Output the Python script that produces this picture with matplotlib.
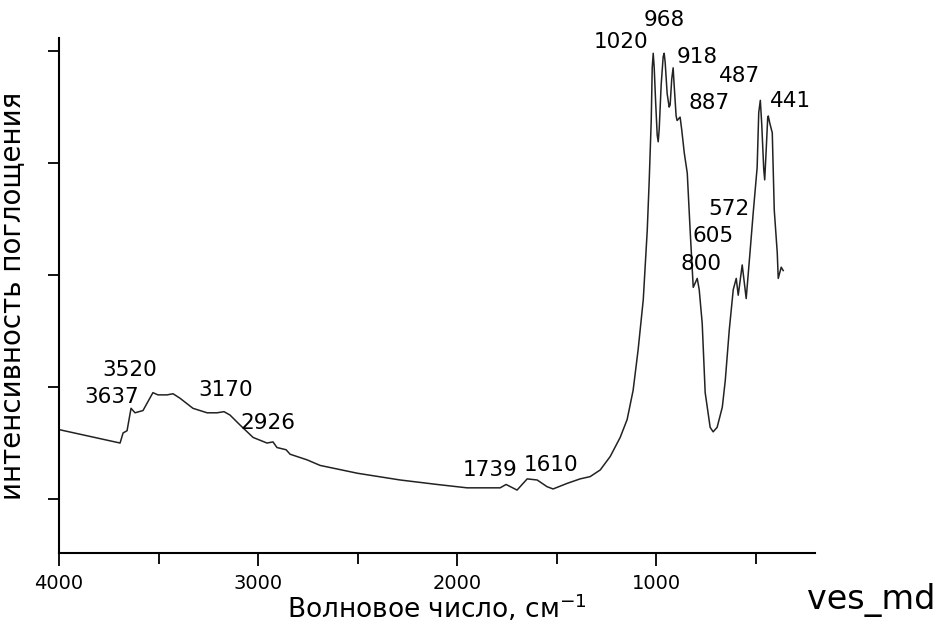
import numpy as np
import matplotlib
matplotlib.use('Agg')
import matplotlib.pyplot as plt
from matplotlib.ticker import MultipleLocator

# IR spectrum (wavenumber, arbitrary absorbance)
wavenumber = [4000, 3693, 3678, 3658, 3638, 3618, 3578, 3528, 3503, 3457,
              3427, 3392, 3327, 3256, 3206, 3171, 3141, 3090, 3025, 2955,
              2925, 2905, 2859, 2839, 2754, 2688, 2500, 2286, 2100, 1950,
              1784, 1754, 1699, 1648, 1598, 1548, 1518, 1447, 1382, 1332,
              1281, 1231, 1181, 1146, 1116, 1091, 1065, 1045, 1035, 1025,
              1020, 1015, 1010, 1003, 995, 990, 985, 975, 965, 960,
              955, 945, 935, 930, 922, 915, 910, 900, 895, 880,
              872, 859, 844, 829, 814, 794, 784, 769, 754, 729,
              714, 694, 668, 653, 633, 613, 598, 588, 568, 548,
              528, 513, 493, 485, 477, 470, 460, 455, 448, 440,
              437, 430, 417, 407, 392, 387, 372, 362]
absorb = [0.62, 0.50, 0.59, 0.61, 0.81, 0.77, 0.79, 0.95, 0.93, 0.93,
          0.94, 0.90, 0.81, 0.77, 0.77, 0.78, 0.75, 0.66, 0.55, 0.50,
          0.51, 0.46, 0.44, 0.40, 0.35, 0.30, 0.23, 0.17, 0.13, 0.10,
          0.10, 0.13, 0.08, 0.18, 0.17, 0.11, 0.09, 0.14, 0.18, 0.20,
          0.26, 0.38, 0.55, 0.71, 0.97, 1.33, 1.78, 2.40, 2.85, 3.38,
          3.85, 3.98, 3.85, 3.55, 3.25, 3.19, 3.30, 3.70, 3.95, 3.98,
          3.90, 3.62, 3.50, 3.52, 3.75, 3.85, 3.70, 3.42, 3.38, 3.41,
          3.30, 3.09, 2.91, 2.38, 1.89, 1.97, 1.87, 1.57, 0.95, 0.64,
          0.60, 0.64, 0.82, 1.06, 1.51, 1.87, 1.97, 1.82, 2.09, 1.79,
          2.22, 2.55, 2.96, 3.45, 3.56, 3.35, 2.95, 2.85, 3.10, 3.40,
          3.42, 3.36, 3.27, 2.58, 2.20, 1.97, 2.07, 2.04]

peak_labels = ['3520', '3637', '3170', '2926', '1739', '1610', '1020', '968',
               '918', '487', '887', '441', '572', '605', '800']
label_x = [3643, 3734, 3161, 2950, 1834, 1528, 1176, 960,
           794, 583, 734, 327, 633, 714, 774]
label_y = [1.15, 0.91, 0.97, 0.68, 0.26, 0.30, 4.08, 4.28,
           3.95, 3.78, 3.54, 3.55, 2.59, 2.35, 2.10]

fig = plt.figure(figsize=(9.48, 6.28), dpi=100)
ax = fig.add_axes([0.0622, 0.1194, 0.798, 0.820])

ax.plot(wavenumber, absorb, color='#222222', lw=1.1)

for t, x, y in zip(peak_labels, label_x, label_y):
    ax.text(x, y, t, fontsize=15.5, ha='center', va='center', color='black')

ax.set_xlim(4000, 200)
ax.set_ylim(-0.482, 4.116)
ax.xaxis.set_minor_locator(MultipleLocator(500))
ax.set_xticks([1000, 2000, 3000, 4000])
ax.set_yticks([0, 1, 2, 3, 4])
ax.set_yticklabels([])

for s in ['top', 'right']:
    ax.spines[s].set_visible(False)
for s in ['left', 'bottom']:
    ax.spines[s].set_linewidth(1.5)

ax.tick_params(axis='x', which='major', length=9, width=1.3, labelsize=14, pad=6)
ax.tick_params(axis='x', which='minor', length=8, width=1.3)
ax.tick_params(axis='y', length=8, width=1.3)

ax.set_xlabel('Волновое число, см$^{-1}$', fontsize=19, labelpad=0)
ax.set_ylabel('интенсивность поглощения', fontsize=20, labelpad=12)

fig.text(0.919, 0.045, 'ves_md', fontsize=24, ha='center', va='center')

fig.savefig('out.png', dpi=100)
